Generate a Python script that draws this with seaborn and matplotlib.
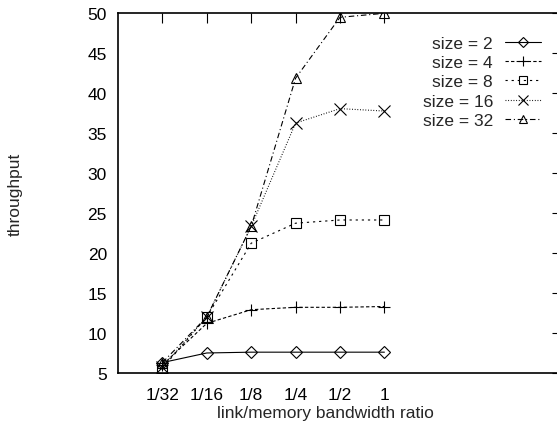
import numpy as np
import pandas as pd
import matplotlib
matplotlib.use('Agg')
import matplotlib.pyplot as plt
import seaborn as sns
from matplotlib.lines import Line2D

# bandwidth ratios on the x axis (categorical, evenly spaced)
ratios = ['1/32', '1/16', '1/8', '1/4', '1/2', '1']

# throughput per network size
size_2 = [6.3, 7.5, 7.6, 7.6, 7.6, 7.6]
size_4 = [6.0, 11.2, 12.9, 13.2, 13.2, 13.3]
size_8 = [5.6, 12.0, 21.2, 23.7, 24.1, 24.1]
size_16 = [5.8, 12.0, 23.3, 36.2, 38.0, 37.7]
size_32 = [6.3, 12.0, 23.3, 41.8, 49.4, 49.9]

labels = ['size = 2', 'size = 4', 'size = 8', 'size = 16', 'size = 32']
series = [size_2, size_4, size_8, size_16, size_32]

rows = []
for lab, vals in zip(labels, series):
    for i, v in enumerate(vals):
        rows.append({'pos': i, 'throughput': v, 'size': lab})
df = pd.DataFrame(rows)

sns.set_style('white')
plt.rcParams['font.family'] = ['Liberation Sans', 'DejaVu Sans']
FS = 12.5

markers = {'size = 2': 'D', 'size = 4': '+', 'size = 8': 's',
           'size = 16': 'x', 'size = 32': '^'}
msizes = {'size = 2': 6, 'size = 4': 8, 'size = 8': 7,
          'size = 16': 8, 'size = 32': 7}
dashes = {'size = 2': None, 'size = 4': (3, 2), 'size = 8': (2, 3.5),
          'size = 16': (0.8, 1.6), 'size = 32': (5, 2.5, 1, 2.5)}

fig = plt.figure(figsize=(5.57, 4.31), dpi=100)
ax = fig.add_axes([118 / 557, 57 / 431, 444 / 557, 360.5 / 431])

handles = []
for lab in labels:
    sub = df[df['size'] == lab]
    sns.lineplot(data=sub, x='pos', y='throughput', ax=ax, color='black',
                 linewidth=0.8, marker=markers[lab], markersize=msizes[lab],
                 markerfacecolor='none', markeredgecolor='black',
                 markeredgewidth=0.8, legend=False)
    line = ax.get_lines()[-1]
    h = Line2D([], [], color='black', linewidth=0.8, marker=markers[lab],
               markersize=msizes[lab] - 1, markerfacecolor='none',
               markeredgecolor='black', markeredgewidth=0.8)
    if dashes[lab] is not None:
        line.set_dashes(dashes[lab])
        h.set_dashes(dashes[lab])
    handles.append(h)

ax.set_xlim(-1, 9)
ax.set_ylim(5, 50)
ax.set_xticks(range(len(ratios)))
ax.set_xticklabels(ratios)
ax.set_yticks(np.arange(5, 51, 5))
ax.set_xlabel('')
ax.set_ylabel('')
ax.tick_params(direction='in', length=7, width=0.8, top=True, right=True,
               labelsize=FS, colors='black', pad=8)
ax.tick_params(axis='x', pad=10)
for sp in ax.spines.values():
    sp.set_linewidth(1.2)
    sp.set_color('black')

# markerfirst=False gives gnuplot-style right-aligned labels
ax.legend(handles=handles, labels=labels, loc='upper right',
          bbox_to_anchor=((541 - 118) / 444, 1 - 23 / 360.5),
          frameon=False, markerfirst=False, numpoints=1, fontsize=FS,
          handlelength=2.07, handletextpad=0.69, labelspacing=0.24,
          borderaxespad=0, borderpad=0)

fig.text(15 / 557, 1 - 194 / 431, 'throughput', rotation=90,
         ha='center', va='center', fontsize=FS)
fig.text(325 / 557, 1 - 414 / 431, 'link/memory bandwidth ratio',
         ha='center', va='center', fontsize=FS)

fig.savefig('out.png', dpi=100)
